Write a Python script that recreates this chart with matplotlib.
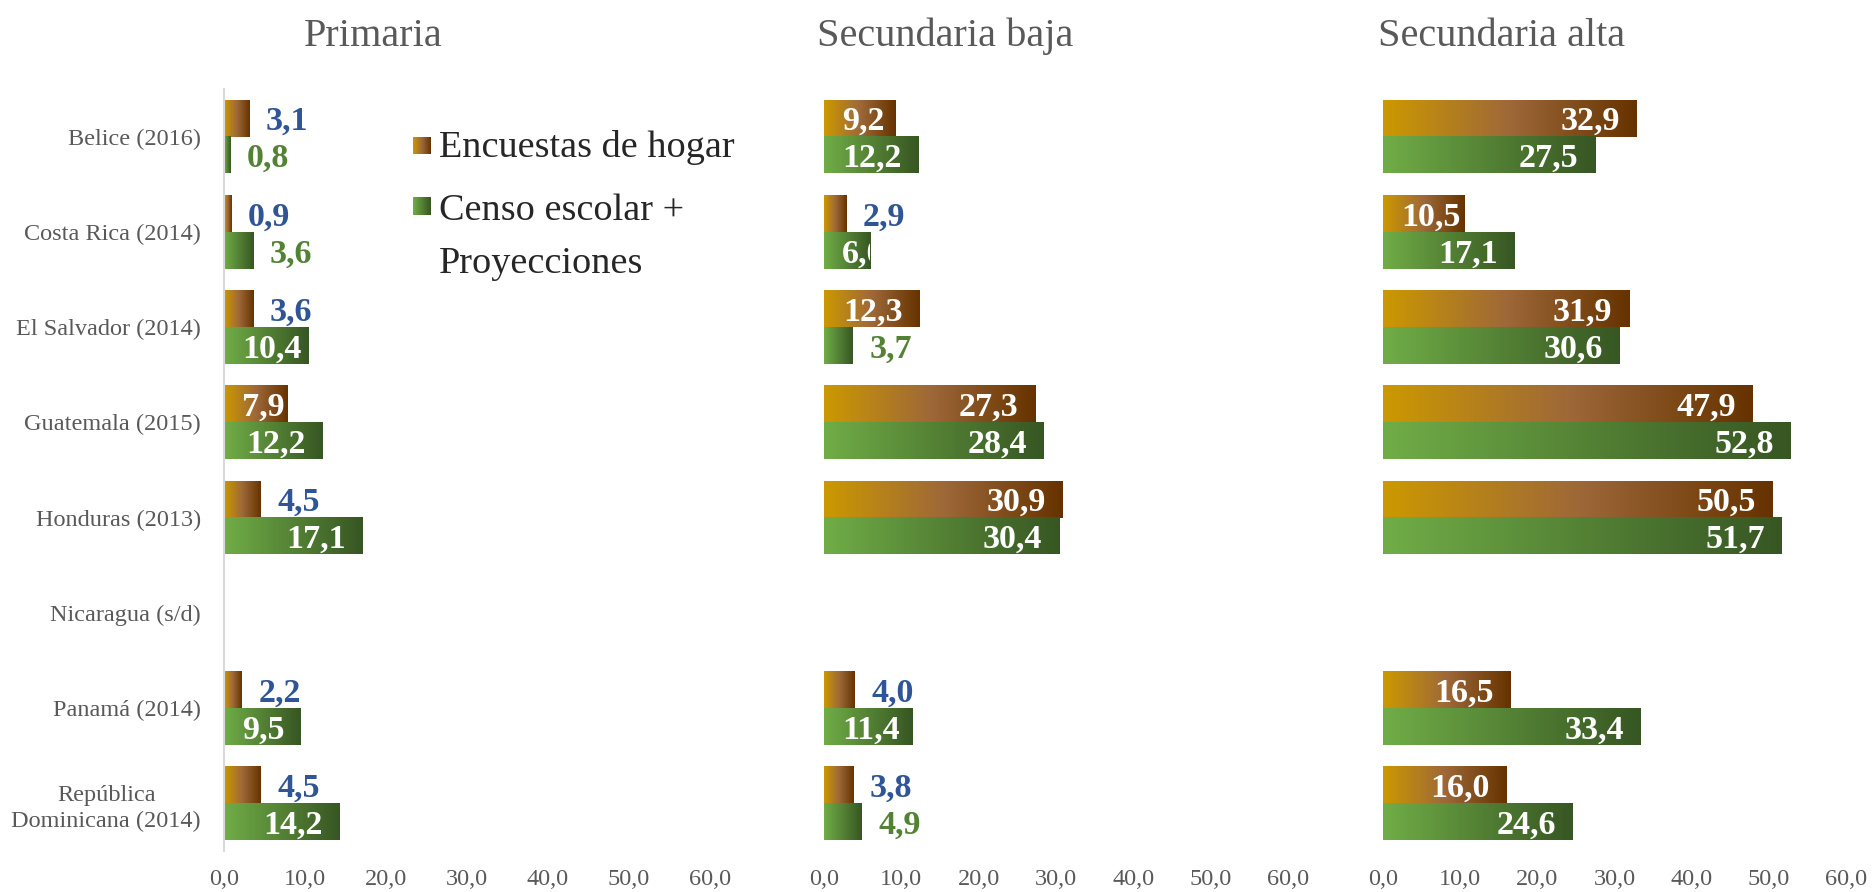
import numpy as np
import matplotlib
matplotlib.use("Agg")
import matplotlib.pyplot as plt
from matplotlib.colors import LinearSegmentedColormap

# ---------------- data ----------------
categories = ["Belice (2016)", "Costa Rica (2014)", "El Salvador (2014)",
              "Guatemala (2015)", "Honduras (2013)", "Nicaragua (s/d)",
              "Panamá (2014)", "República\nDominicana (2014)"]
levels = ["Primaria", "Secundaria baja", "Secundaria alta"]
series_names = ["Encuestas de hogar", "Censo escolar +\nProyecciones"]
nan = np.nan
hogar_primaria = [3.1, 0.9, 3.6, 7.9, 4.5, nan, 2.2, 4.5]
censo_primaria = [0.8, 3.6, 10.4, 12.2, 17.1, nan, 9.5, 14.2]
hogar_sec_baja = [9.2, 2.9, 12.3, 27.3, 30.9, nan, 4.0, 3.8]
censo_sec_baja = [12.2, 6.0, 3.7, 28.4, 30.4, nan, 11.4, 4.9]
hogar_sec_alta = [32.9, 10.5, 31.9, 47.9, 50.5, nan, 16.5, 16.0]
censo_sec_alta = [27.5, 17.1, 30.6, 52.8, 51.7, nan, 33.4, 24.6]
x_ticks = [0, 10, 20, 30, 40, 50, 60]

panels = [(hogar_primaria, censo_primaria),
          (hogar_sec_baja, censo_sec_baja),
          (hogar_sec_alta, censo_sec_alta)]

# ---------------- style ----------------
FONT = "Liberation Serif"
GRAY = "#595959"
brown_cmap = LinearSegmentedColormap.from_list("brown", ["#CC9900", "#9E6838", "#663300"])
green_cmap = LinearSegmentedColormap.from_list("green", ["#70AD47", "#548235", "#375623"])
cmaps = [brown_cmap, green_cmap]
outside_colors = ["#2F5597", "#548235"]
INSIDE_MIN = 6.0
BAR_H = 0.387

W, H = 1874, 892
fig = plt.figure(figsize=(W / 100, H / 100), dpi=100)
fig.patch.set_facecolor("white")

def fx(px):
    return px / W

def fy(py):
    return 1 - py / H

ax_left = [224, 824, 1383]
ax_width = [486, 464, 463]
ax_top, ax_bottom = 89, 851
title_x = [373, 945, 1502]

y = np.arange(len(categories))
grad = np.linspace(0, 1, 256).reshape(1, -1)
axes = []
inside_labels = []

for p, (vals_h, vals_c) in enumerate(panels):
    ax = fig.add_axes([fx(ax_left[p]), 1 - ax_bottom / H, fx(ax_width[p]), (ax_bottom - ax_top) / H])
    axes.append(ax)
    for s, vals in enumerate((vals_h, vals_c)):
        offs = -BAR_H / 2 if s == 0 else BAR_H / 2
        bars = ax.barh(y + offs, vals, height=BAR_H, color=cmaps[s](0.5), zorder=1, linewidth=0)
        for i, (bar, v) in enumerate(zip(bars, vals)):
            if np.isnan(v):
                continue
            x0, y0 = bar.get_x(), bar.get_y()
            w, h = bar.get_width(), bar.get_height()
            ax.imshow(grad, cmap=cmaps[s], extent=(x0, x0 + w, y0 + h, y0),
                      aspect="auto", interpolation="bicubic", zorder=2)
            lab = f"{v:.1f}".replace(".", ",")
            yc = y0 + h / 2
            if v >= INSIDE_MIN:
                t = ax.annotate(lab, xy=(x0 + w, yc), xytext=(-12, 0), textcoords="offset points",
                                ha="right", va="center_baseline", color="white",
                                fontsize=24.5, fontweight="bold", family=FONT, zorder=5)
                t.set_clip_path(bar)
                inside_labels.append((ax, t, x0, yc))
            else:
                ax.annotate(lab, xy=(x0 + w, yc), xytext=(12, 0), textcoords="offset points",
                            ha="left", va="center_baseline", color=outside_colors[s],
                            fontsize=24.5, fontweight="bold", family=FONT, zorder=5)
    ax.set_xlim(0, 60)
    ax.set_ylim(len(categories) - 0.5, -0.5)
    ax.set_xticks(x_ticks)
    ax.set_xticklabels([f"{t:.1f}".replace(".", ",") for t in x_ticks],
                       family=FONT, fontsize=17.5, color=GRAY)
    ax.tick_params(axis="x", length=0, pad=13)
    for sp in ax.spines.values():
        sp.set_visible(False)
    if p == 0:
        ax.set_yticks(y)
        ax.set_yticklabels(categories, family=FONT, fontsize=17.5, color=GRAY)
        for tl in ax.get_yticklabels():
            tl.set_multialignment("center")
            tl.set_linespacing(1.3)
        ax.tick_params(axis="y", length=0, pad=16.5)
        ax.spines["left"].set_visible(True)
        ax.spines["left"].set_color("#D9D9D9")
        ax.spines["left"].set_linewidth(1.5)
    else:
        ax.set_yticks([])
    fig.text(fx(title_x[p]), fy(36), levels[p], ha="center", va="center",
             family=FONT, fontsize=29, color=GRAY)

# adjust inside labels that would overflow the left edge of their bar
fig.canvas.draw()
renderer = fig.canvas.get_renderer()
for ax, t, x0, yc in inside_labels:
    bb = t.get_window_extent(renderer)
    left_px = ax.transData.transform((x0, yc))[0]
    if bb.x0 < left_px + 18:
        t.xy = (x0, yc)
        t.set_position((13, 0))
        t.set_ha("left")

# legend (marker top, marker bottom, first-line baseline in pixels)
LINE_STEP = 53
legend_rows = [(137, 154, 157), (197, 215, 220)]
for s, (top, bot, base) in enumerate(legend_rows):
    lax = fig.add_axes([fx(413), 1 - bot / H, fx(18), (bot - top) / H])
    lax.imshow(grad, cmap=cmaps[s], aspect="auto", extent=(0, 1, 0, 1))
    lax.axis("off")
    lines = series_names[s].split("\n")
    for k, line in enumerate(lines):
        fig.text(fx(439), fy(base + k * LINE_STEP), line, ha="left", va="baseline",
                 family=FONT, fontsize=27.5, color="#262626")

fig.savefig("out.png", dpi=100, facecolor="white")
